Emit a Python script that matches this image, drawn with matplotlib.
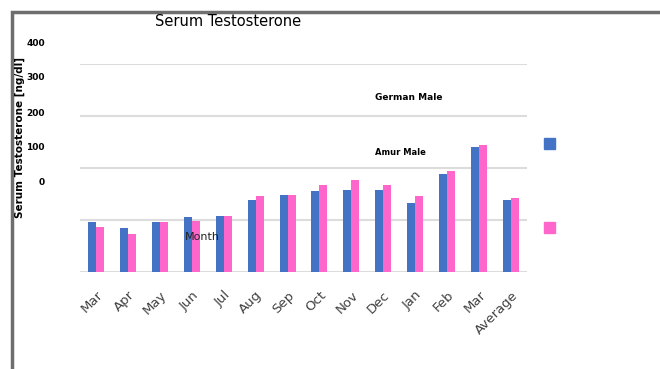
import numpy as np
import matplotlib.pyplot as plt
from matplotlib.patches import Rectangle

# Monthly serum testosterone (ng/dl) for the two groups
months = ['Mar', 'Apr', 'May', 'Jun', 'Jul', 'Aug', 'Sep', 'Oct', 'Nov',
          'Dec', 'Jan', 'Feb', 'Mar', 'Average']
german_male = [97, 84, 97, 106, 108, 138, 148, 156, 158, 158, 132, 188, 241, 138]
amur_male = [87, 73, 97, 98, 108, 146, 148, 167, 176, 167, 147, 194, 245, 142]
ytick_labels = ['400', '300', '200', '100', '0']

blue = '#4472C4'
pink = '#FF66CC'

W, H = 660, 369
fig = plt.figure(figsize=(W / 100, H / 100), dpi=100)

def fx(px):
    return px / W

def fy(py):
    return 1 - py / H

ax = fig.add_axes([fx(80), fy(272), fx(527) - fx(80), fy(64) - fy(272)])

x = np.arange(len(months))
w = 0.25
ax.bar(x - w / 2, german_male, width=w, color=blue, zorder=3)
ax.bar(x + w / 2, amur_male, width=w, color=pink, zorder=3)

ax.set_xlim(-0.5, len(months) - 0.5)
ax.set_ylim(0, 400)
ax.set_yticks([0, 100, 200, 300, 400])
ax.set_yticklabels([])
ax.tick_params(axis='y', length=0)
ax.grid(axis='y', color='#dcdcdc', lw=1.5, zorder=0)
ax.set_xticks(x)
ax.set_xticklabels(months, rotation=45, ha='right', rotation_mode='anchor',
                   fontsize=9.5, color='#404040')
ax.tick_params(axis='x', length=0, pad=12)
for s in ax.spines.values():
    s.set_visible(False)

ax.text(2.8, 62, 'Month', fontsize=8, color='#222222', zorder=4)

# outer frame
fig.add_artist(Rectangle((fx(12), -0.1), 1.2, fy(12) + 0.1, transform=fig.transFigure,
                         fill=False, edgecolor='#6e6e6e', lw=2.5))

fig.text(fx(228), fy(22), 'Serum Testosterone', fontsize=10.5, ha='center', va='center')

for lab, py in zip(ytick_labels, [43, 77, 114, 147, 183]):
    fig.text(fx(45), fy(py), lab, fontsize=6.5, fontweight='bold', ha='right', va='center')

fig.text(fx(20), fy(137), 'Serum Testosterone [ng/dl]', fontsize=7.5, fontweight='bold',
         rotation=90, ha='center', va='center')

fig.text(fx(375), fy(97), 'German Male', fontsize=6.5, fontweight='bold', va='center')
fig.text(fx(375), fy(153), 'Amur Male', fontsize=6, fontweight='bold', va='center')

# legend keys without text
for col, py in [(blue, 144), (pink, 228)]:
    fig.add_artist(Rectangle((fx(544), fy(py + 5)), fx(11), 11 / H,
                             transform=fig.transFigure, color=col))

fig.savefig('out.png', dpi=100)
